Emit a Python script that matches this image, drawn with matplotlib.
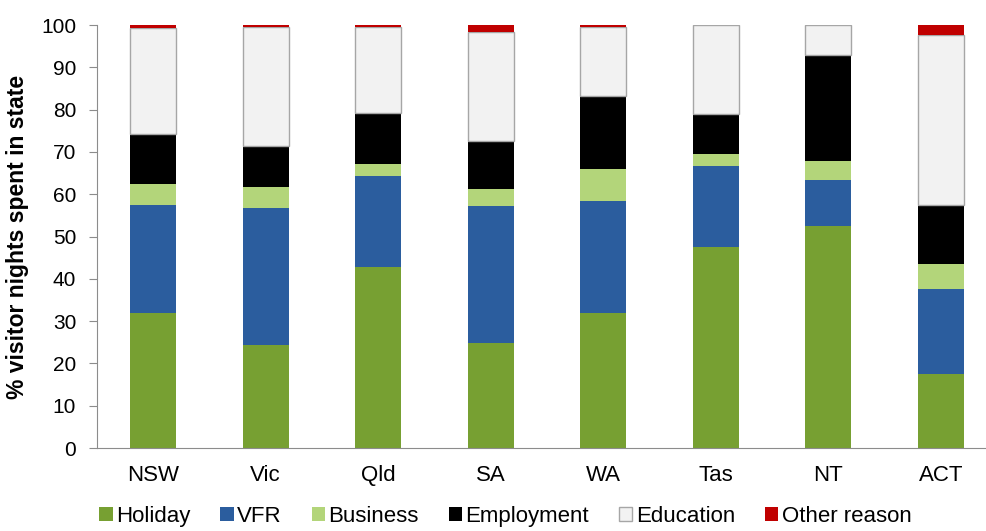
import matplotlib
matplotlib.use("Agg")
import matplotlib.pyplot as plt
import numpy as np

plt.rcParams['font.family'] = ['Liberation Sans', 'DejaVu Sans']

# data (% of visitor nights)
states = ['NSW', 'Vic', 'Qld', 'SA', 'WA', 'Tas', 'NT', 'ACT']
holiday = [31.8, 24.3, 42.9, 24.8, 32.0, 47.6, 52.6, 17.5]
vfr = [25.7, 32.5, 21.5, 32.3, 26.5, 19.1, 10.8, 20.0]
business = [5.0, 4.8, 2.8, 4.2, 7.5, 2.9, 4.5, 6.1]
employment = [11.8, 9.9, 12.0, 11.3, 17.3, 9.4, 25.0, 13.9]
education = [24.9, 28.1, 20.4, 25.7, 16.3, 20.9, 7.0, 40.2]
other = [0.8, 0.4, 0.4, 1.7, 0.4, 0.1, 0.1, 2.3]

series = [
    ('Holiday', holiday, '#77A032', 'none'),
    ('VFR', vfr, '#2B5D9E', 'none'),
    ('Business', business, '#B3D57A', 'none'),
    ('Employment', employment, '#000000', 'none'),
    ('Education', education, '#F2F2F2', '#A6A6A6'),
    ('Other reason', other, '#C00000', 'none'),
]

fig = plt.figure(figsize=(9.87, 5.31), dpi=100)
ax = fig.add_axes([0.0983, 0.1563, 0.9118, 0.7966])

x = np.arange(len(states))
bottom = np.zeros(len(states))
for name, vals, col, ec in series:
    ax.bar(x, vals, width=0.41, bottom=bottom, color=col, edgecolor=ec,
           linewidth=1.0 if ec != 'none' else 0, label=name)
    bottom += np.array(vals)

ax.set_xlim(-0.5, len(states) - 0.5)
ax.set_ylim(0, 100)
ax.set_yticks(range(0, 101, 10))
ax.set_xticks(x)
ax.set_xticklabels(states)
ax.tick_params(axis='x', length=0, labelsize=16, pad=12)
ax.tick_params(axis='y', length=6, color='#8C8C8C', labelsize=15, pad=9)
for s in ['top', 'right']:
    ax.spines[s].set_visible(False)
for s in ['left', 'bottom']:
    ax.spines[s].set_color('#8C8C8C')
ax.set_ylabel('% visitor nights spent in state', fontsize=16.5,
              fontweight='bold', labelpad=9)

fig.legend(loc='lower center', bbox_to_anchor=(0.512, -0.03), ncol=6,
           frameon=False, fontsize=16, handlelength=0.6, handleheight=0.6,
           handletextpad=0.15, columnspacing=1.35)

plt.savefig('out.png', dpi=100)
plt.close()
